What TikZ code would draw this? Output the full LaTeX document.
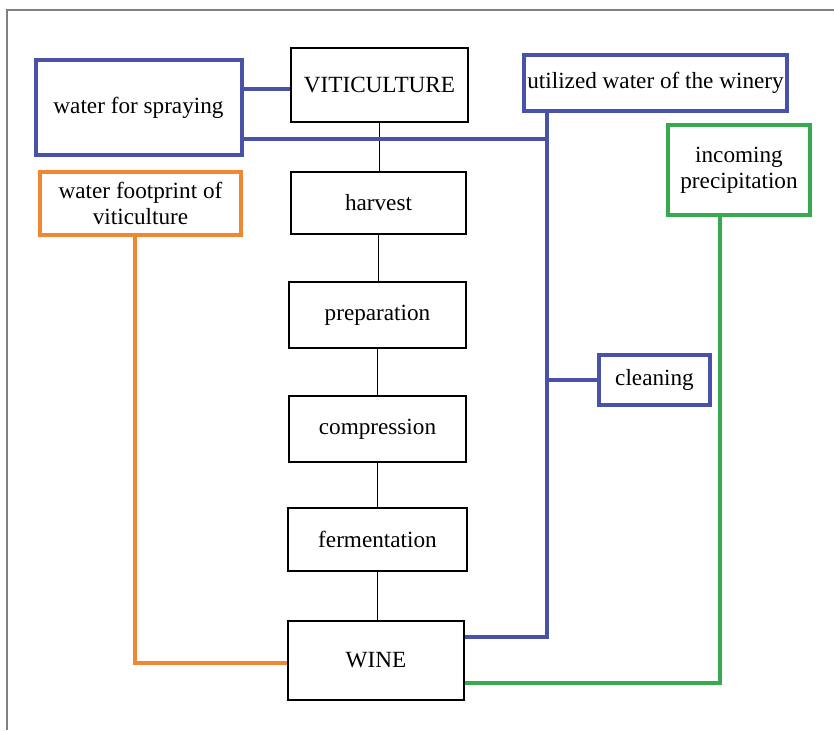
\documentclass[tikz,border=0pt]{standalone}
\usepackage{fontspec}
\setmainfont{Liberation Serif}
\definecolor{wblue}{RGB}{72,82,168}
\definecolor{worange}{RGB}{240,135,50}
\definecolor{wgreen}{RGB}{55,170,80}
\definecolor{wgray}{RGB}{128,128,128}
\tikzset{
  stepbox/.style={draw=black, line width=1.5pt, inner sep=0pt, align=center, font=\fontsize{23.2pt}{26pt}\selectfont},
  waterbox/.style={line width=4pt, inner sep=0pt, align=center, font=\fontsize{23.2pt}{26pt}\selectfont},
  flow/.style={draw=black, line width=1.5pt},
  wline/.style={line width=4pt}
}
\begin{document}
\begin{tikzpicture}[x=1pt,y=-1pt]
\useasboundingbox (0,0) rectangle (834,730);
\fill[white] (0,0) rectangle (834,730);
\draw[wgray, line width=1.2pt] (7,730) -- (7,10) -- (834,10);

% process chain
\node[stepbox, minimum width=177pt, minimum height=74pt] (viti) at (379.5,85) {VITICULTURE};
\node[stepbox, minimum width=175pt, minimum height=62pt] (harv) at (378.5,203) {harvest};
\node[stepbox, minimum width=177pt, minimum height=66pt] (prep) at (377.5,315) {preparation};
\node[stepbox, minimum width=177pt, minimum height=66pt] (comp) at (377.5,429) {compression};
\node[stepbox, minimum width=179pt, minimum height=63pt] (ferm) at (377.5,539.5) {fermentation};
\node[stepbox, minimum width=176pt, minimum height=79pt] (wine) at (376,660.5) {WINE};

% water boxes
\node[waterbox, draw=wblue, minimum width=206pt, minimum height=95pt] (spray) at (138.5,107.5) {water for spraying};
\node[waterbox, draw=wblue, minimum width=263pt, minimum height=56pt] (util) at (655.5,83) {utilized water of the winery};
\node[waterbox, draw=wblue, minimum width=111pt, minimum height=50pt] (clean) at (654.5,380) {cleaning};
\node[waterbox, draw=wgreen, minimum width=142pt, minimum height=90pt] (precip) at (739,170) {incoming\\precipitation};
\node[waterbox, draw=worange, minimum width=201pt, minimum height=63pt] (foot) at (140.5,203.5) {water footprint of\\viticulture};

% black connectors
\draw[flow] (viti.south) -- (viti.south |- harv.north);
\draw[flow] (harv.south) -- (harv.south |- prep.north);
\draw[flow] (prep.south) -- (prep.south |- comp.north);
\draw[flow] (comp.south) -- (comp.south |- ferm.north);
\draw[flow] (ferm.south) -- (ferm.south |- wine.north);

% blue connectors
\coordinate (bus) at ([xshift=-108.5pt]util.south);
\draw[wline, wblue] ([yshift=-4pt]viti.west) -- ([yshift=-4pt]viti.west -| spray.east);
\draw[wline, wblue] ([yshift=-31.5pt]spray.east) -| (bus);
\draw[wline, wblue] (bus) |- ([yshift=23.5pt]wine.east);
\draw[wline, wblue] (clean.west) -- (clean.west -| bus);

% green connector
\draw[wline, wgreen] ([xshift=-19pt]precip.south) |- ([yshift=-22.5pt]wine.east);

% orange connector
\draw[wline, worange] ([xshift=-5.5pt]foot.south) |- ([yshift=-2.5pt]wine.west);
\end{tikzpicture}
\end{document}
